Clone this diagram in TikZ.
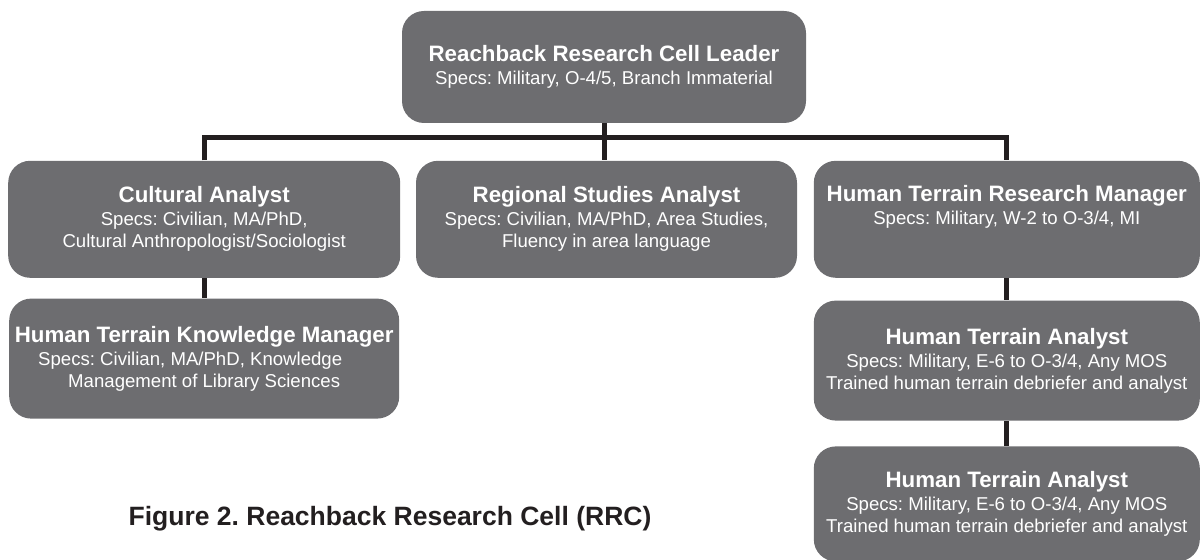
\documentclass[tikz,border=0pt]{standalone}
\usepackage{fontspec}
\setmainfont{Liberation Sans}
\frenchspacing
\usetikzlibrary{positioning}
\definecolor{postgray}{RGB}{109,109,112}
\definecolor{linkblack}{RGB}{35,31,32}
\newcommand{\posttitle}[1]{{\bfseries\fontsize{11.15pt}{11.5pt}\selectfont #1}}
\tikzstyle{chart}=[x=0.5pt, y=0.5pt, link/.style={draw=linkblack, line width=2.5pt}]
\tikzstyle{post}=[rectangle, rounded corners=11pt, fill=postgray, text=white, inner sep=0pt,
  align=center, font=\fontsize{9.3pt}{11pt}\selectfont]

\begin{document}
\begin{tikzpicture}[chart]
  \useasboundingbox (0,0) rectangle (1202,-560);
  % top of the cell
  \node[post, minimum width=202pt, minimum height=56pt] (lead) at (604,-67)
    {\posttitle{Reachback Research Cell Leader}\\[0.5pt] Specs: Military, O-4/5, Branch Immaterial};
  % second row
  \node[post, minimum width=190.5pt, minimum height=58.5pt] (regional) [below=19.5pt of lead.south, anchor=north, yshift=1pt, xshift=1.25pt]
    {\posttitle{Regional Studies Analyst}\\[0.5pt] Specs: Civilian, MA/PhD, Area Studies,\\ Fluency in area language};
  \node[post, minimum width=196pt, minimum height=58.5pt] (cultural) [left=7.5pt of regional]
    {\posttitle{Cultural Analyst}\\[0.5pt] Specs: Civilian, MA/PhD,\\ Cultural Anthropologist/Sociologist};
  \node[post, minimum width=193pt, minimum height=58.5pt] (manager) [right=8pt of regional]
    {\posttitle{Human Terrain Research Manager}\\[0.5pt] Specs: Military, W-2 to O-3/4, MI\\ \strut};
  % under the analysts
  \node[post, minimum width=195pt, minimum height=60pt] (knowledge) [below=10pt of cultural]
    {\posttitle{Human Terrain Knowledge Manager}\\[0.5pt] Specs: Civilian, MA/PhD, Knowledge\hspace{14pt}\mbox{}\\ Management of Library Sciences};
  \node[post, minimum width=193pt, minimum height=60pt] (terrainA) [below=11pt of manager]
    {\posttitle{Human Terrain Analyst}\\[0.5pt] Specs: Military, E-6 to O-3/4, Any MOS\\ Trained human terrain debriefer and analyst};
  \node[post, minimum width=193pt, minimum height=57.5pt] (terrainB) [below=12.5pt of terrainA]
    {\posttitle{Human Terrain Analyst}\\[0.5pt] Specs: Military, E-6 to O-3/4, Any MOS\\ Trained human terrain debriefer and analyst};
  \node[font=\bfseries\fontsize{13.25pt}{15pt}\selectfont, text=linkblack, anchor=base] (caption) at (390,-525)
    {Figure 2. Reachback Research Cell (RRC)};
  % connectors
  \coordinate[below=7pt of lead.south] (bus);
  \draw[link] (lead.south) -- (lead.south |- regional.north);
  \draw[link] (cultural.north) |- (bus) -| (manager.north);
  \draw[link] (cultural) -- (knowledge);
  \draw[link] (manager) -- (terrainA);
  \draw[link] (terrainA) -- (terrainB);
\end{tikzpicture}
\end{document}
